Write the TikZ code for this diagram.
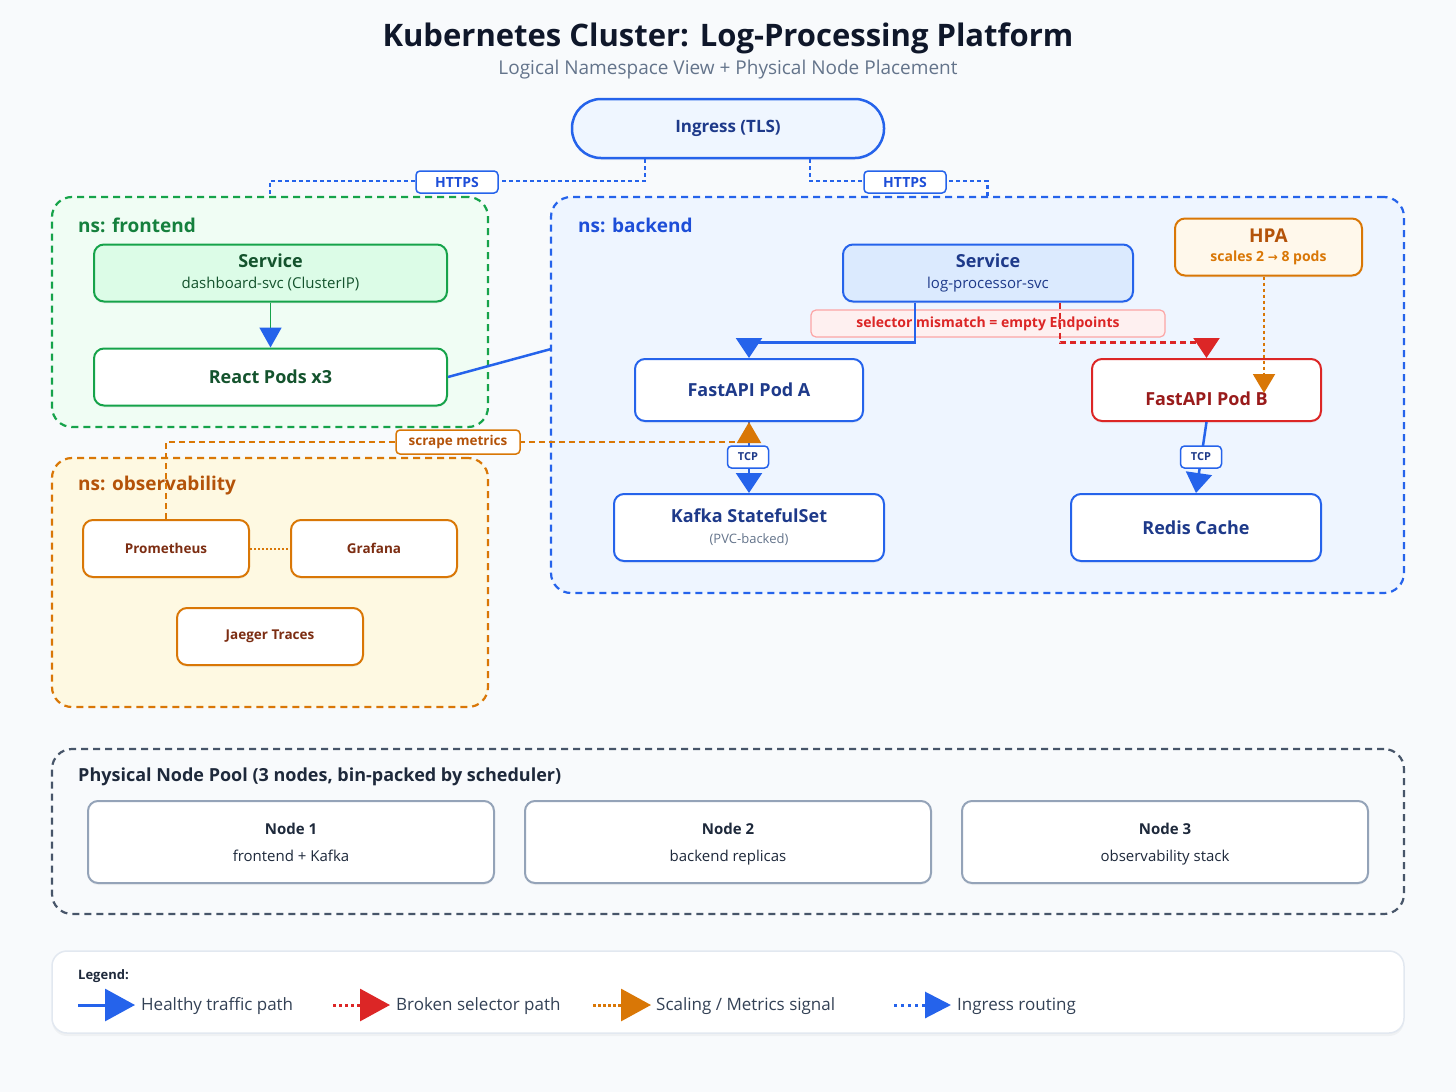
\documentclass[tikz,border=0pt]{standalone}
\usepackage{fontspec}
\setmainfont{Open Sans}
\newfontfamily\djv{DejaVu Sans}
\usetikzlibrary{arrows.meta,calc,shadows}
\definecolor{bg}{HTML}{F8FAFC}
\definecolor{blueB}{HTML}{2563EB}
\definecolor{blueT}{HTML}{1E3A8A}
\definecolor{blueL}{HTML}{1D4ED8}
\definecolor{blueBg}{HTML}{EEF5FF}
\definecolor{blueSvc}{HTML}{DBEAFE}
\definecolor{ingBg}{HTML}{EFF6FF}
\definecolor{greenB}{HTML}{16A34A}
\definecolor{greenL}{HTML}{15803D}
\definecolor{greenT}{HTML}{14532D}
\definecolor{greenBg}{HTML}{F0FDF4}
\definecolor{greenSvc}{HTML}{DCFCE7}
\definecolor{orB}{HTML}{D97706}
\definecolor{orL}{HTML}{B45309}
\definecolor{orT}{HTML}{7C2D12}
\definecolor{orBg}{HTML}{FEF9E2}
\definecolor{hpaBg}{HTML}{FFF8EB}
\definecolor{redB}{HTML}{DC2626}
\definecolor{redT}{HTML}{991B1B}
\definecolor{redBg}{HTML}{FEF0F0}
\definecolor{redL}{HTML}{FCA5A5}
\definecolor{slB}{HTML}{475569}
\definecolor{slT}{HTML}{1E293B}
\definecolor{slN}{HTML}{94A3B8}
\definecolor{slG}{HTML}{64748B}
\definecolor{slX}{HTML}{334155}
\definecolor{titleC}{HTML}{0F172A}
\definecolor{legB}{HTML}{E2E8F0}
\newcommand{\fsz}[1]{\fontsize{#1pt}{#1pt}\selectfont}
\newcommand{\mydepth}{\vphantom{(p}}
\begin{document}
\begin{tikzpicture}[x=1pt,y=-1pt,
  box/.style={rectangle, rounded corners=10pt, inner sep=0pt, line width=2pt, align=center},
  nsbox/.style={rectangle, rounded corners=20pt, inner sep=0pt, line width=2.2pt, dash pattern=on 7pt off 5pt},
  nslabel/.style={anchor=west, inner sep=0pt, font=\fsz{19}\bfseries},
  shad/.style={drop shadow={shadow xshift=0pt, shadow yshift=-2pt, opacity=0.08}},
  tag/.style={rectangle, rounded corners=4pt, fill=white, line width=1.5pt, inner sep=0pt},
  big/.style={-{Triangle[length=20pt,width=26pt]}},
]
\fill[bg] (0,0) rectangle (1456,1092);
\useasboundingbox (0,0) rectangle (1456,1092);

% title
\node[text=titleC, font=\fsz{31}\bfseries] (title) at (728,38) {Kubernetes Cluster: Log-Processing Platform};
\node[text=slG, font=\fsz{19}] (subtitle) at (728,69.5) {Logical Namespace View + Physical Node Placement};

% containers
\node[nsbox, draw=greenB, fill=greenBg, minimum width=436pt, minimum height=230pt] (nsf) at (270,312) {};
\node[nsbox, draw=blueB, fill=blueBg, minimum width=853pt, minimum height=396pt] (nsb) at (977.5,395) {};
\node[nsbox, draw=orB, fill=orBg, minimum width=436pt, minimum height=249pt] (nso) at (270,582.5) {};
\node[nsbox, draw=slB, fill=bg, minimum width=1352pt, minimum height=165pt] (pool) at (728,831.5) {};

\node[nslabel, text=greenL] (lf) at (78,225) {ns: frontend};
\node[nslabel, text=blueL] (lb) at (578,225) {ns: backend};
\node[nslabel, text=orL] (lo) at (78,485.5) {ns: observability};
\node[nslabel, text=slT, font=\fsz{18}\bfseries] (lp) at (78,777) {Physical Node Pool (3 nodes, bin-packed by scheduler)};

% ingress
\node[box, rounded corners=29pt, draw=blueB, fill=ingBg, line width=2.5pt, minimum width=312pt, minimum height=59pt, shad, text=blueT, font=\fsz{17}\bfseries] (ing) at (728,128.5) {Ingress (TLS)};

% frontend
\node[box, draw=greenB, fill=greenSvc, minimum width=353pt, minimum height=57pt, shad, text=greenT] (svcf) at (270.5,273) {{\fsz{18}\bfseries Service}\\[9pt]{\fsz{15}dashboard-svc (ClusterIP)\mydepth}};
\node[box, draw=greenB, fill=white, minimum width=353pt, minimum height=57pt, shad, text=greenT, font=\fsz{18}\bfseries] (react) at (270.5,377) {React Pods x3};

% backend
\node[box, draw=blueB, fill=blueSvc, minimum width=290pt, minimum height=57pt, shad, text=blueT] (svcb) at (988,273) {{\fsz{18}\bfseries Service}\\[9pt]{\fsz{15}log-processor-svc\mydepth}};
\node[box, draw=orB, fill=hpaBg, minimum width=187pt, minimum height=57pt, shad] (hpa) at (1268.5,247) {{\fsz{19}\bfseries\color{orL}HPA}\\[7pt]{\fsz{14}\bfseries\color{orB}scales 2 {\djv\fsz{12}→} 8 pods}};
\node[box, rounded corners=5pt, line width=1.2pt, draw=redL, fill=redBg, minimum width=354pt, minimum height=27pt, text=redB, font=\fsz{14}\bfseries] (mis) at (988,323.5) {selector mismatch = empty Endpoints};
\node[box, draw=blueB, fill=white, minimum width=228pt, minimum height=62pt, shad, text=blueT, font=\fsz{18}\bfseries] (poda) at (749,390) {FastAPI Pod A};
\node[box, draw=redB, fill=white, minimum width=229pt, minimum height=62pt, shad, text=redT, font=\fsz{18}\bfseries] (podb) at (1206.5,390) {\raisebox{-9pt}[\height][\depth]{FastAPI Pod B}};
\node[box, draw=blueB, fill=white, minimum width=270pt, minimum height=67pt, shad, text=blueT] (kafka) at (749,527.5) {{\fsz{18}\bfseries Kafka StatefulSet}\\[9pt]{\fsz{13}\color{slG}(PVC-backed)}};
\node[box, draw=blueB, fill=white, minimum width=250pt, minimum height=67pt, shad, text=blueT, font=\fsz{18}\bfseries] (redis) at (1196,527.5) {Redis Cache};

% observability
\node[box, draw=orB, fill=white, minimum width=166pt, minimum height=57pt, shad, text=orT, font=\fsz{13.5}\bfseries] (prom) at (166,548.5) {Prometheus};
\node[box, draw=orB, fill=white, minimum width=166pt, minimum height=57pt, shad, text=orT, font=\fsz{13.5}\bfseries] (graf) at (374,548.5) {Grafana};
\node[box, draw=orB, fill=white, minimum width=186pt, minimum height=57pt, shad, text=orT, font=\fsz{13.5}\bfseries] (jaeg) at (270,636.5) {Jaeger Traces};

% physical nodes
\node[box, draw=slN, fill=white, minimum width=406pt, minimum height=82pt, shad, text=slT] (n1) at (291,842) {\raisebox{-2pt}[\height][\depth]{\begin{tabular}{@{}c@{}}{\fsz{15}\bfseries Node 1}\\[12pt]{\fsz{15}frontend + Kafka\mydepth}\end{tabular}}};
\node[box, draw=slN, fill=white, minimum width=406pt, minimum height=82pt, shad, text=slT] (n2) at (728,842) {\raisebox{-2pt}[\height][\depth]{\begin{tabular}{@{}c@{}}{\fsz{15}\bfseries Node 2}\\[12pt]{\fsz{15}backend replicas\mydepth}\end{tabular}}};
\node[box, draw=slN, fill=white, minimum width=406pt, minimum height=82pt, shad, text=slT] (n3) at (1165,842) {\raisebox{-2pt}[\height][\depth]{\begin{tabular}{@{}c@{}}{\fsz{15}\bfseries Node 3}\\[12pt]{\fsz{15}observability stack\mydepth}\end{tabular}}};

% ingress routing
\draw[blueB, line width=2.2pt, dash pattern=on 4pt off 3pt] ([xshift=-83pt]ing.south) |- ($(nsf.north)+(0,-15)$) -- (nsf.north);
\draw[blueB, line width=2.2pt, dash pattern=on 4pt off 3pt] ([xshift=82pt]ing.south) |- ($([xshift=10pt]nsb.north)+(0,-15)$) -- ([xshift=10pt]nsb.north);
\node[tag, draw=blueB, minimum width=82pt, minimum height=22pt, text=blueL, font=\fsz{14}\bfseries] (h1) at (457,182) {HTTPS};
\node[tag, draw=blueB, minimum width=82pt, minimum height=22pt, text=blueL, font=\fsz{14}\bfseries] (h2) at (905,182) {HTTPS};

% frontend connectors
\draw[greenB, line width=1.8pt, -{Triangle[length=20pt,width=22pt,color=blueB]}] (svcf.south) -- (react.north);
\coordinate (bkw) at (551,349);
\draw[blueB, line width=2.5pt] (react.east) -- (bkw);

% backend connectors
\draw[blueB, line width=2.5pt, big] ([xshift=-73pt]svcb.south) -- ++(0,40) -| (poda.north);
\draw[redB, line width=2.2pt, dash pattern=on 6pt off 4pt, big] ([xshift=72pt]svcb.south) -- ++(0,40) -| (podb.north);
\coordinate (hpatip) at (1264,393);
\draw[orB, line width=2pt, dash pattern=on 3pt off 3pt, -{Triangle[length=19pt,width=22pt]}] ([xshift=-4.5pt]hpa.south) -- (hpatip);

\draw[blueB, line width=2.5pt, big] (poda.south) -- (kafka.north);
\draw[blueB, line width=2.5pt, big] (podb.south) -- (redis.north);

% scrape metrics
\draw[orB, line width=2pt, dash pattern=on 6pt off 4pt, -{Triangle[length=21pt,width=24pt]}] (prom.north) |- ($(poda.south)+(0,20)$) -- (poda.south);
\node[tag, draw=orB, minimum width=124pt, minimum height=24pt, text=orL, font=\fsz{13.5}\bfseries] (sm) at (458,442) {scrape metrics};

\node[tag, draw=blueB, minimum width=41pt, minimum height=22pt, text=blueT, font=\fsz{11}\bfseries] (tcpa) at (748,457) {TCP};
\node[tag, draw=blueB, minimum width=41pt, minimum height=22pt, text=blueT, font=\fsz{11}\bfseries] (tcpb) at (1201,457) {TCP};

\draw[orB, line width=2pt, dash pattern=on 2pt off 2pt] (prom.east) -- (graf.west);

% legend
\node[rectangle, rounded corners=15pt, draw=legB, line width=1.5pt, fill=white, minimum width=1352pt, minimum height=82pt, drop shadow={shadow xshift=0pt, shadow yshift=-3pt, opacity=0.07}] (leg) at (728,992) {};
\node[anchor=west, inner sep=0pt, text=slT, font=\fsz{13}\bfseries] (legt) at (78,976) {Legend:};
\coordinate (l1a) at (78,1005); \coordinate (l1b) at (135,1005);
\coordinate (l2a) at (333,1005); \coordinate (l2b) at (390,1005);
\coordinate (l3a) at (593,1005); \coordinate (l3b) at (651,1005);
\coordinate (l4a) at (894,1005); \coordinate (l4b) at (951,1005);
\draw[blueB, line width=3pt, -{Triangle[length=30pt,width=32pt]}] (l1a) -- (l1b);
\draw[redB, line width=3pt, dash pattern=on 3pt off 3pt, -{Triangle[length=30pt,width=32pt]}] (l2a) -- (l2b);
\draw[orB, line width=3pt, dash pattern=on 3pt off 2pt, -{Triangle[length=30pt,width=32pt]}] (l3a) -- (l3b);
\draw[blueB, line width=3pt, dash pattern=on 3pt off 4pt, -{Triangle[length=26pt,width=26pt]}] (l4a) -- (l4b);
\node[anchor=west, inner sep=0pt, text=slX, font=\fsz{17}] (t1) at (141,1006) {Healthy traffic path};
\node[anchor=west, inner sep=0pt, text=slX, font=\fsz{17}] (t2) at (396,1006) {Broken selector path};
\node[anchor=west, inner sep=0pt, text=slX, font=\fsz{17}] (t3) at (656,1006) {Scaling / Metrics signal};
\node[anchor=west, inner sep=0pt, text=slX, font=\fsz{17}] (t4) at (957,1006) {Ingress routing};
\end{tikzpicture}
\end{document}
